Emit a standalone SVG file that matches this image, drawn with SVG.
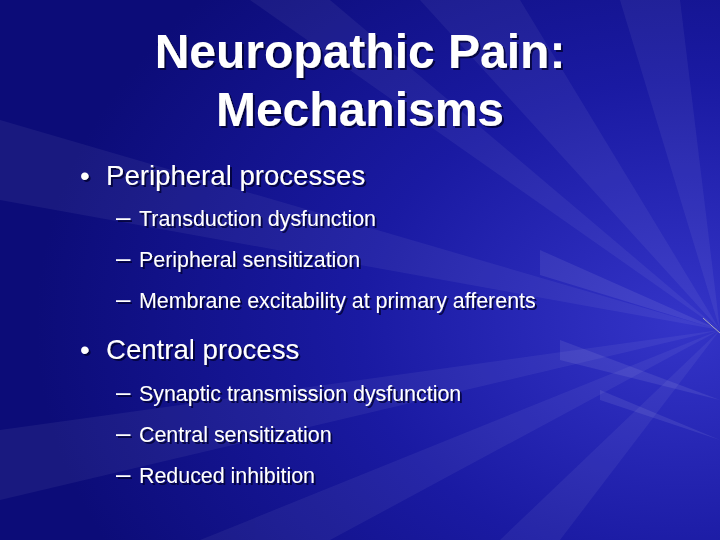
<svg xmlns="http://www.w3.org/2000/svg" width="720" height="540" viewBox="0 0 720 540">
<defs>
<radialGradient id="bg" cx="0.95" cy="0.6" r="0.9">
<stop offset="0" stop-color="#3434c8"/>
<stop offset="0.5" stop-color="#1a1aa2"/>
<stop offset="1" stop-color="#0c0c78"/>
</radialGradient>
<filter id="sh" x="-5%" y="-20%" width="110%" height="140%"><feDropShadow dx="2" dy="2" stdDeviation="0.5" flood-color="#000033" flood-opacity="0.8"/></filter>
<style>
text{font-family:"Liberation Sans",Arial,sans-serif;fill:#fff;filter:url(#sh)}
.t{font-size:48px;font-weight:bold;text-anchor:middle}
.b{font-size:27.6px}
.s{font-size:21.4px}
.d{font-size:26px}
.ray{fill:#ffffff}
</style>
</defs>
<rect width="720" height="540" fill="url(#bg)"/>
<g id="rays" opacity="0.05">
<polygon class="ray" points="720,330 420,0 520,0"/>
<polygon class="ray" points="720,330 620,0 680,0"/>
<polygon class="ray" points="720,330 0,120 0,200"/>
<polygon class="ray" points="720,330 200,540 330,540"/>
<polygon class="ray" points="720,330 500,540 560,540"/>
<polygon class="ray" points="720,330 250,0 330,0"/>
<polygon class="ray" points="720,330 0,430 0,500"/>
</g>
<g id="rays2" opacity="0.08">
<polygon class="ray" points="720,330 540,250 540,275"/>
<polygon class="ray" points="720,400 560,340 560,360"/>
<polygon class="ray" points="720,440 600,390 600,400"/>
</g>
<line x1="703" y1="318" x2="720" y2="333" stroke="#aab" stroke-width="1"/>
<g id="title">
<text class="t" x="360" y="68">Neuropathic Pain:</text>
<text class="t" x="360" y="126">Mechanisms</text>
</g>
<g id="peripheral">
<text class="b" x="80" y="185">•</text>
<text class="b" x="106" y="185">Peripheral processes</text>
<text class="d" x="116" y="226">–</text><text class="s" x="139" y="226">Transduction dysfunction</text>
<text class="d" x="116" y="267">–</text><text class="s" x="139" y="267">Peripheral sensitization</text>
<text class="d" x="116" y="308">–</text><text class="s" x="139" y="308">Membrane excitability at primary afferents</text>
</g>
<g id="central">
<text class="b" x="80" y="359">•</text>
<text class="b" x="106" y="359">Central process</text>
<text class="d" x="116" y="401">–</text><text class="s" x="139" y="401">Synaptic transmission dysfunction</text>
<text class="d" x="116" y="442">–</text><text class="s" x="139" y="442">Central sensitization</text>
<text class="d" x="116" y="483">–</text><text class="s" x="139" y="483">Reduced inhibition</text>
</g>
</svg>
